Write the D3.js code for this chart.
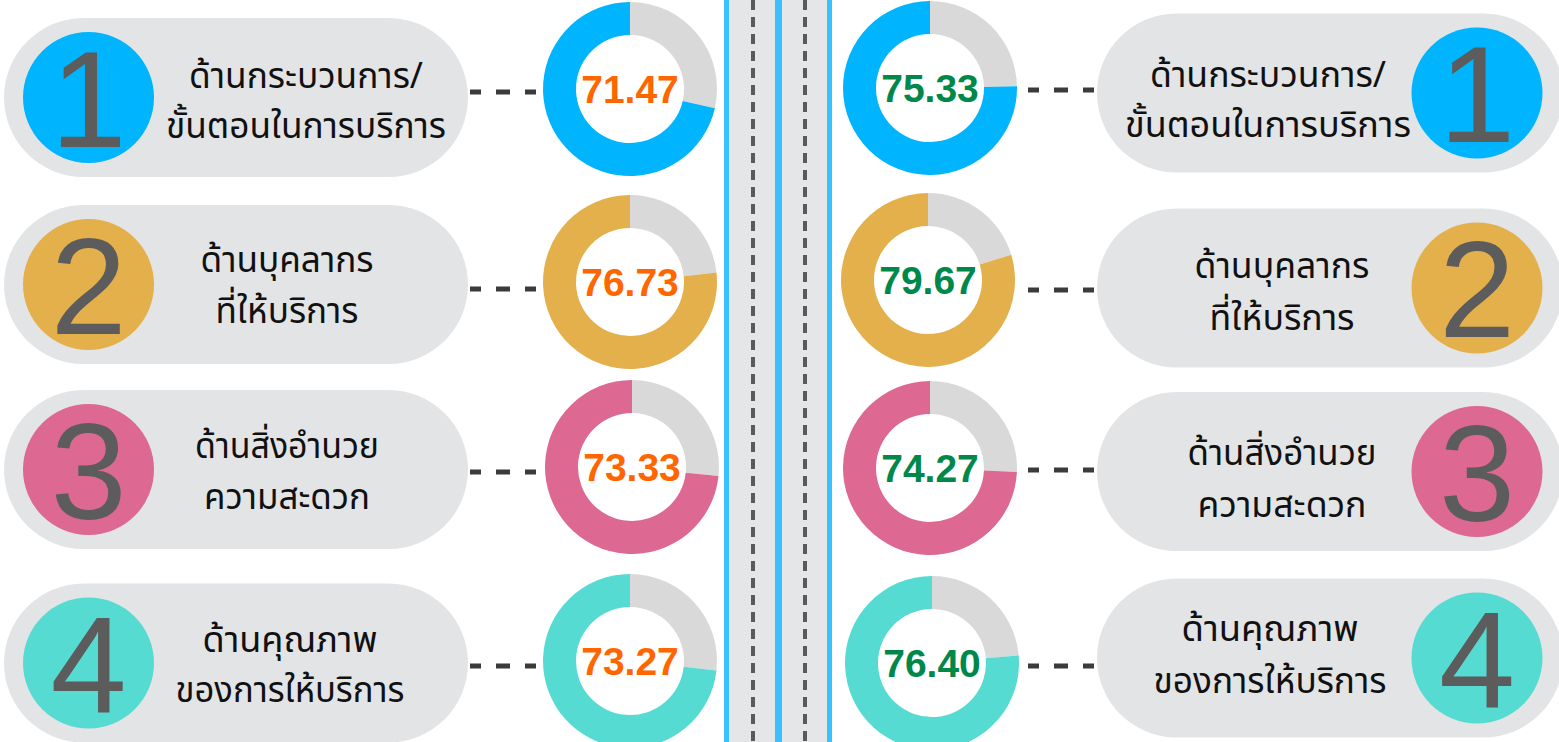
<!DOCTYPE html>
<html><head><meta charset="utf-8">
<script src="https://cdn.jsdelivr.net/npm/d3@7"></script>
<style>html,body{margin:0;padding:0;background:#fff;overflow:hidden}</style>
</head><body><svg id="c" width="1559" height="742"></svg>
<script>
// ---- data ----
const categories = [
  ["ด้านกระบวนการ/", "ขั้นตอนในการบริการ"],
  ["ด้านบุคลากร", "ที่ให้บริการ"],
  ["ด้านสิ่งอำนวย", "ความสะดวก"],
  ["ด้านคุณภาพ", "ของการให้บริการ"]
];
const numbers = ["1", "2", "3", "4"];
const leftValues = [71.47, 76.73, 73.33, 73.27];
const rightValues = [75.33, 79.67, 74.27, 76.40];
const maxValue = 100;

// ---- layout / style ----
const colors = ["#00b4fd", "#e3b04c", "#dd6891", "#55dbd2"];
const W = 1559, H = 742;
const leftPillY = [97.5, 284.5, 469.5, 663];
const rightPillY = [93, 288, 471.5, 658];
const leftDonut = [[630, 89], [630, 282], [632, 467], [630, 661]];
const rightDonut = [[930, 88], [928, 280], [930, 468], [932, 663]];
const leftConnY = [92, 289, 472, 666];
const rightConnY = [90, 290, 470, 666];
const leftTextX = [306, 287, 287, 290];
const rightTextX = [1268, 1282, 1282, 1270];
const leftBase = [[88, 138], [272, 323], [458, 509], [652, 702]];
const rightBase = [[87, 137], [278, 330], [465, 517], [641, 693]];
const leftTW = [[234, 280], [173, 143], [184, 166], [175, 229]];
const rightTW = [[236, 286], [175, 145], [189, 169], [177, 233]];
const thaiFont = "'Noto Sans Thai','Noto Sans Thai UI','Loma','Garuda','Tlwg Typo','Norasi','Noto Sans',sans-serif";

const svg = d3.select("#c");

// central road strip
const strip = svg.append("g");
strip.append("rect").attr("x", 729).attr("y", 0).attr("width", 46).attr("height", H).attr("fill", "#e5e6e8");
strip.append("rect").attr("x", 782).attr("y", 0).attr("width", 45).attr("height", H).attr("fill", "#e5e6e8");
[[724, 5], [775, 7], [827, 5]].forEach(([x, w]) =>
  strip.append("rect").attr("x", x).attr("y", 0).attr("width", w).attr("height", H).attr("fill", "#38c1ff"));
[753, 805].forEach(x =>
  strip.append("line").attr("x1", x).attr("x2", x).attr("y1", 0).attr("y2", H)
    .attr("stroke", "#5a5a5a").attr("stroke-width", 4).attr("stroke-dasharray", "10 7"));

const angle = d3.scaleLinear().domain([0, maxValue]).range([0, 2 * Math.PI]);
const arc = d3.arc().innerRadius(54).outerRadius(87);

function donut(cx, cy, v, color, textColor) {
  const g = svg.append("g").attr("transform", `translate(${cx},${cy})`);
  const split = angle(maxValue - v);
  g.append("path").attr("d", arc({startAngle: 0, endAngle: split})).attr("fill", "#d9d9d9");
  g.append("path").attr("d", arc({startAngle: split, endAngle: 2 * Math.PI})).attr("fill", color);
  g.append("text").attr("x", 0).attr("y", 14).attr("text-anchor", "middle")
    .attr("font-family", "'Liberation Sans',Arial,sans-serif").attr("font-weight", "bold")
    .attr("font-size", 39).attr("fill", textColor).text(v.toFixed(2));
}

function pill(x, cy, w, circleX, i, textX, bases, tws) {
  const g = svg.append("g");
  g.append("rect").attr("x", x).attr("y", cy - 79.5).attr("width", w).attr("height", 159)
    .attr("rx", 79.5).attr("fill", "#e3e4e6");
  g.append("circle").attr("cx", circleX).attr("cy", cy).attr("r", 65.5).attr("fill", colors[i]);
  g.append("text").attr("x", circleX).attr("y", cy + 49).attr("text-anchor", "middle")
    .attr("font-family", "'Liberation Sans',Arial,sans-serif").attr("font-size", 137)
    .attr("fill", "#5c5c5c").text(numbers[i]);
  categories[i].forEach((line, k) => {
    g.append("text").attr("x", textX).attr("y", bases[k]).attr("text-anchor", "middle")
      .attr("font-family", thaiFont).attr("font-size", 36).attr("fill", "#111")
      .attr("textLength", tws[k]).attr("lengthAdjust", "spacingAndGlyphs").text(line);
  });
}

function connector(x1, x2, y) {
  svg.append("line").attr("x1", x1).attr("x2", x2).attr("y1", y).attr("y2", y)
    .attr("stroke", "#3b3b3b").attr("stroke-width", 5).attr("stroke-dasharray", "11 15 14 15 11");
}

for (let i = 0; i < 4; i++) {
  pill(4, leftPillY[i], 464, 88.5, i, leftTextX[i], leftBase[i], leftTW[i]);
  pill(1097, rightPillY[i], 466, 1477, i, rightTextX[i], rightBase[i], rightTW[i]);
  connector(470, 537, leftConnY[i]);
  connector(1028, 1094, rightConnY[i]);
  donut(leftDonut[i][0], leftDonut[i][1], leftValues[i], colors[i], "#ff6600");
  donut(rightDonut[i][0], rightDonut[i][1], rightValues[i], colors[i], "#00884a");
}
</script></body></html>
